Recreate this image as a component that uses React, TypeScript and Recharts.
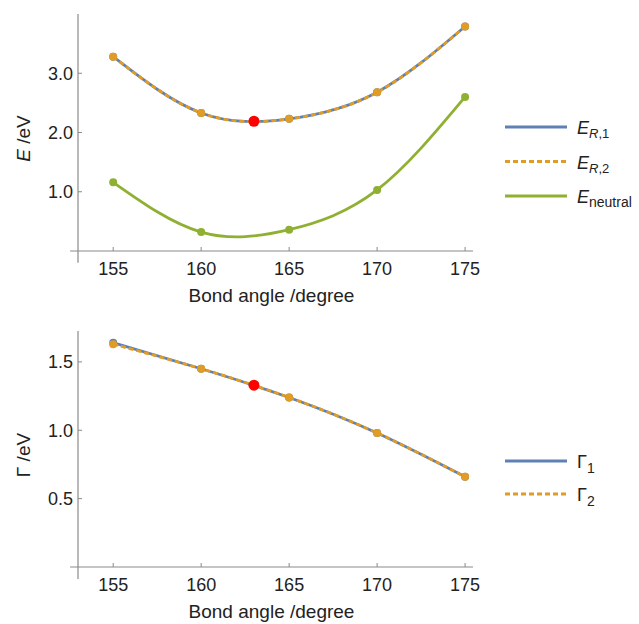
import { ComposedChart, Line, XAxis, YAxis, ReferenceLine, Legend } from "recharts";

const angles = [155, 160, 165, 170, 175];
const eR1 = [3.28, 2.33, 2.23, 2.68, 3.79];
const eR2 = [3.28, 2.33, 2.23, 2.68, 3.79];
const eNeutral = [1.16, 0.32, 0.36, 1.03, 2.6];
const gamma1 = [1.64, 1.45, 1.24, 0.98, 0.66];
const gamma2 = [1.63, 1.45, 1.24, 0.98, 0.66];
const minAngle = 163;
const minEnergy = 2.19;
const minGamma = 1.33;

const angleTicks = [155, 160, 165, 170, 175];
const energyTicks = [1, 2, 3];
const gammaTicks = [0.5, 1, 1.5];

const energyData = angles.map((a, i) => ({ angle: a, eR1: eR1[i], eR2: eR2[i], eNeutral: eNeutral[i] }));
const gammaData = angles.map((a, i) => ({ angle: a, g1: gamma1[i], g2: gamma2[i] }));
const energyMin = [{ angle: minAngle, value: minEnergy }];
const gammaMin = [{ angle: minAngle, value: minGamma }];

const BLUE = "#5e81b5";
const ORANGE = "#e09c24";
const GREEN = "#8fb032";
const RED = "#ff0000";
const AXIS = "#8a8a8a";
const TEXT = "#222";
const FONT = "'Liberation Sans', Arial, sans-serif";
const DASH = "5 3";

const X_DOMAIN: [number, number] = [153, 175.45];
const X_START = 152.55;

const tickStyle = { fill: TEXT, fontSize: 18, fontFamily: FONT };
const fmt = (v: number) => v.toFixed(1);

const legendLabels: Record<string, any> = {
  eR1: (
    <>
      <tspan fontStyle="italic">E</tspan>
      <tspan fontSize={13} dy={4} fontStyle="italic">R</tspan>
      <tspan fontSize={13}>,1</tspan>
    </>
  ),
  eR2: (
    <>
      <tspan fontStyle="italic">E</tspan>
      <tspan fontSize={13} dy={4} fontStyle="italic">R</tspan>
      <tspan fontSize={13}>,2</tspan>
    </>
  ),
  eNeutral: (
    <>
      <tspan fontStyle="italic">E</tspan>
      <tspan fontSize={14} dy={4}>neutral</tspan>
    </>
  ),
  g1: (
    <>
      <tspan>Γ</tspan>
      <tspan fontSize={14} dy={5}>1</tspan>
    </>
  ),
  g2: (
    <>
      <tspan>Γ</tspan>
      <tspan fontSize={14} dy={5}>2</tspan>
    </>
  ),
};

function LegendBox({ payload, gap }: any) {
  const items = (payload || []).filter((p: any) => legendLabels[p.dataKey]);
  return (
    <svg width={139} height={gap * items.length + 10} style={{ display: "block" }}>
      {items.map((p: any, i: number) => {
        const y = 10 + i * gap;
        return (
          <g key={p.dataKey}>
            <line x1={5} x2={67} y1={y} y2={y} stroke={p.color} strokeWidth={3}
              strokeDasharray={p.payload?.strokeDasharray} />
            <text x={77} y={y + 7} fontSize={18} fill={TEXT} fontFamily={FONT}>
              {legendLabels[p.dataKey]}
            </text>
          </g>
        );
      })}
    </svg>
  );
}

const xLabel = (props: any) => {
  const vb = props.viewBox || { x: 78, y: 251, width: 395 };
  return (
    <text x={vb.x + vb.width / 2 - 4} y={vb.y + 51} textAnchor="middle" fontSize={19} fill={TEXT} fontFamily={FONT}>
      Bond angle /degree
    </text>
  );
};

const yLabel = (symbol: any) => (props: any) => {
  const vb = props.viewBox || { y: 14, height: 237 };
  const cy = vb.y + vb.height / 2 + 6;
  return (
    <text x={30} y={cy} transform={`rotate(-90, 30, ${cy})`} textAnchor="middle" fontSize={19} fill={TEXT} fontFamily={FONT}>
      {symbol}
      <tspan> /eV</tspan>
    </text>
  );
};

const dot = (color: string, r = 4) => ({ r, fill: color, stroke: "none", strokeWidth: 0, strokeDasharray: "" });

function EnergyChart() {
  return (
    <ComposedChart width={639} height={310} data={energyData} margin={{ top: 14, right: 166, left: 0, bottom: 0 }}>
      <XAxis type="number" dataKey="angle" domain={X_DOMAIN} ticks={angleTicks} allowDataOverflow interval={0}
        axisLine={false} tickLine={{ stroke: AXIS }} tickSize={-4} tickMargin={15} tick={tickStyle}
        height={59} label={{ content: xLabel }} />
      <YAxis type="number" domain={[0, 4]} ticks={energyTicks} allowDataOverflow interval={0}
        axisLine={false} tickLine={{ stroke: AXIS }} tickSize={-4} tickMargin={9} tick={tickStyle}
        tickFormatter={fmt} width={78} label={{ content: yLabel(<tspan fontStyle="italic">E</tspan>) }} />
      <ReferenceLine segment={[{ x: X_START, y: 0 }, { x: 175.45, y: 0 }]} stroke={AXIS} strokeWidth={1.2} ifOverflow="visible" />
      <ReferenceLine segment={[{ x: 153, y: -0.2 }, { x: 153, y: 4 }]} stroke={AXIS} strokeWidth={1.2} ifOverflow="visible" />
      <Line type="natural" dataKey="eR1" name="E_R,1" stroke={BLUE} strokeWidth={2.8} dot={dot(BLUE)} activeDot={false} isAnimationActive={false} />
      <Line type="natural" dataKey="eR2" name="E_R,2" stroke={ORANGE} strokeWidth={2.8} strokeDasharray={DASH} dot={dot(ORANGE)} activeDot={false} isAnimationActive={false} />
      <Line type="natural" dataKey="eNeutral" name="E_neutral" stroke={GREEN} strokeWidth={2.8} dot={dot(GREEN)} activeDot={false} isAnimationActive={false} />
      <Line data={energyMin} dataKey="value" stroke="none" dot={dot(RED, 5.5)} activeDot={false} legendType="none" isAnimationActive={false} />
      <Legend layout="horizontal" align="center" verticalAlign="middle"
        wrapperStyle={{ left: 500, top: 117, width: 139 }}
        content={(props: any) => <LegendBox {...props} gap={34.5} />} />
    </ComposedChart>
  );
}

function GammaChart() {
  return (
    <ComposedChart width={639} height={314} data={gammaData} margin={{ top: 21, right: 166, left: 0, bottom: 0 }}>
      <XAxis type="number" dataKey="angle" domain={X_DOMAIN} ticks={angleTicks} allowDataOverflow interval={0}
        axisLine={false} tickLine={{ stroke: AXIS }} tickSize={-4} tickMargin={15} tick={tickStyle}
        height={57} label={{ content: xLabel }} />
      <YAxis type="number" domain={[0, 1.726]} ticks={gammaTicks} allowDataOverflow interval={0}
        axisLine={false} tickLine={{ stroke: AXIS }} tickSize={-4} tickMargin={9} tick={tickStyle}
        tickFormatter={fmt} width={78} label={{ content: yLabel(<tspan>Γ</tspan>) }} />
      <ReferenceLine segment={[{ x: X_START, y: 0 }, { x: 175.45, y: 0 }]} stroke={AXIS} strokeWidth={1.2} ifOverflow="visible" />
      <ReferenceLine segment={[{ x: 153, y: -0.088 }, { x: 153, y: 1.726 }]} stroke={AXIS} strokeWidth={1.2} ifOverflow="visible" />
      <Line type="natural" dataKey="g1" name="Γ_1" stroke={BLUE} strokeWidth={2.8} dot={dot(BLUE)} activeDot={false} isAnimationActive={false} />
      <Line type="natural" dataKey="g2" name="Γ_2" stroke={ORANGE} strokeWidth={2.8} strokeDasharray={DASH} dot={dot(ORANGE)} activeDot={false} isAnimationActive={false} />
      <Line data={gammaMin} dataKey="value" stroke="none" dot={dot(RED, 5.5)} activeDot={false} legendType="none" isAnimationActive={false} />
      <Legend layout="horizontal" align="center" verticalAlign="middle"
        wrapperStyle={{ left: 500, top: 141, width: 139 }}
        content={(props: any) => <LegendBox {...props} gap={33} />} />
    </ComposedChart>
  );
}

export default function App() {
  return (
    <div style={{ position: "absolute", left: 0, top: 0, width: 639, height: 624, background: "#fff" }}>
      <EnergyChart />
      <GammaChart />
    </div>
  );
}
